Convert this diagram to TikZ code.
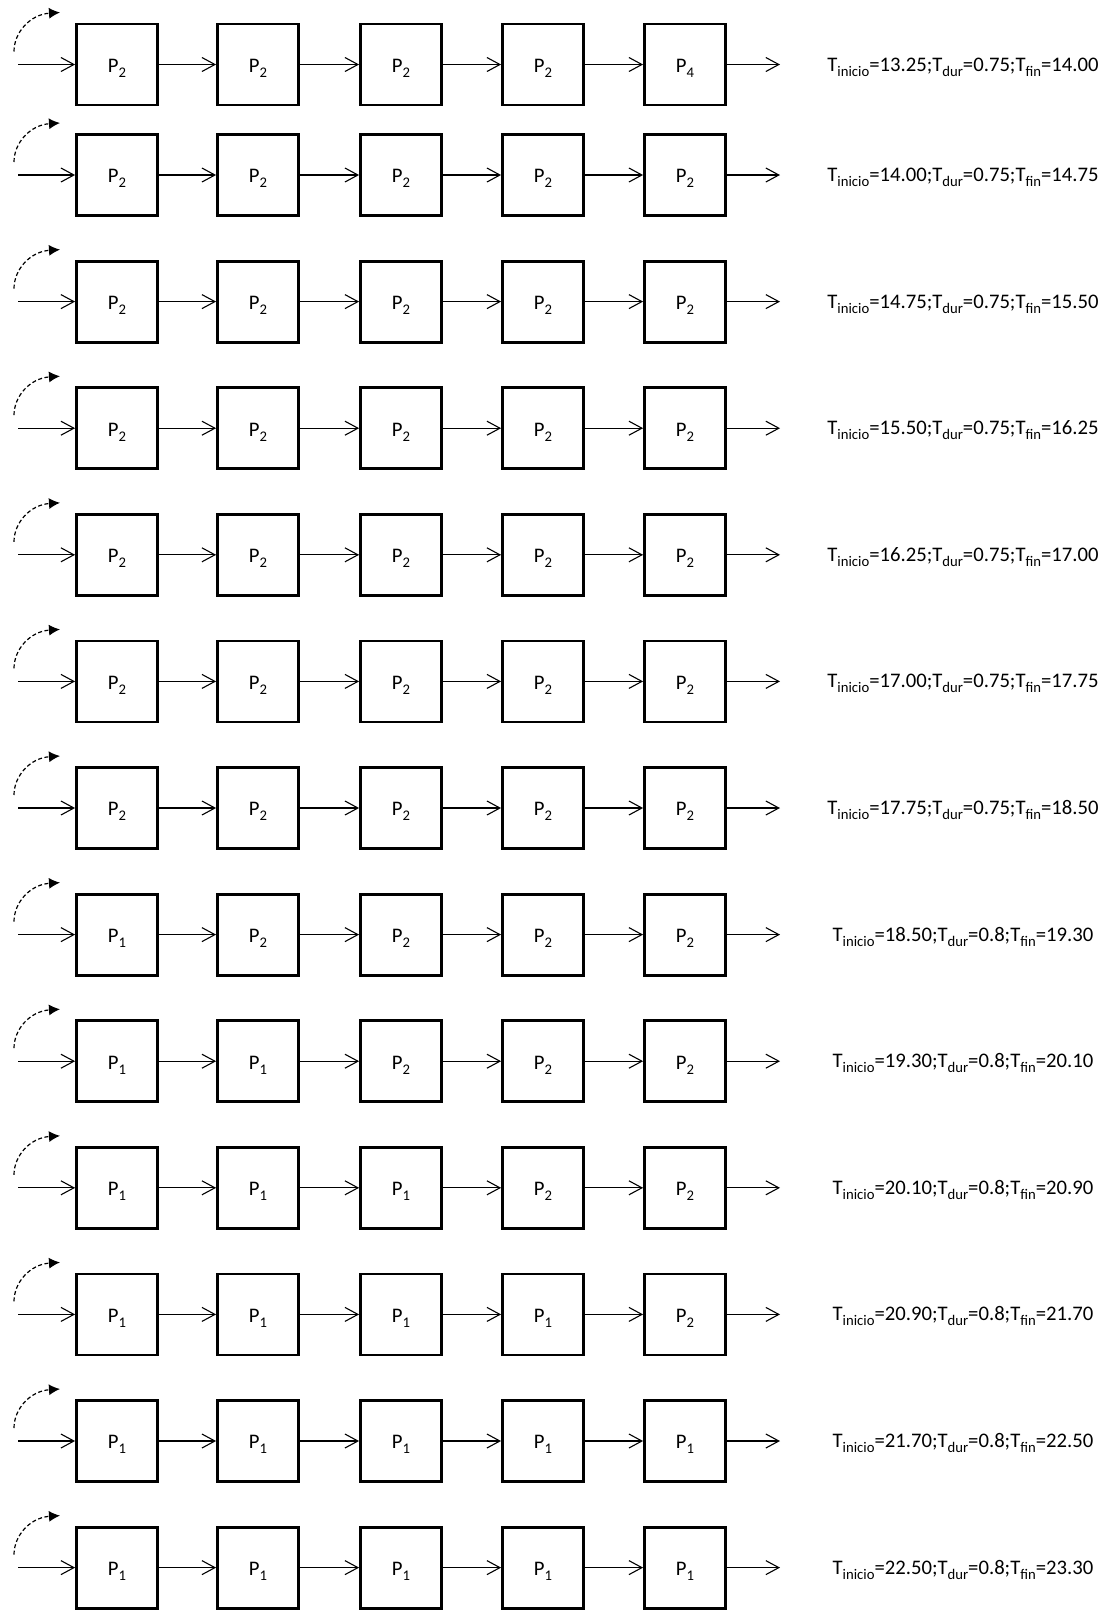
\documentclass[tikz,border=0pt]{standalone}
\usepackage{fontspec}
\setmainfont{Carlito}
\usetikzlibrary{arrows.meta}
\newcommand\sbs[1]{\raisebox{-5pt}{\fontsize{14.7}{15}\selectfont #1}}
\begin{document}
\begin{tikzpicture}[x=1pt,y=-1pt,
  pbox/.style={draw,line width=2.8pt,minimum size=81pt,inner sep=0pt,
    font=\fontsize{20.7}{24}\selectfont,text height=15.6pt,text depth=0pt},
  conn/.style={line width=1.1pt,-{Straight Barb[length=13pt,width=14pt]}},
  loopback/.style={line width=1.2pt,dash pattern=on 4pt off 2.5pt,
    -{Latex[length=11pt,width=11pt]}},
  tlabel/.style={inner sep=0pt,font=\fontsize{20.7}{24}\selectfont,
    text height=13pt,text depth=0pt}]
\useasboundingbox (0,0) rectangle (1107,1610);
\foreach \r/\y/\a/\b/\c/\d/\e/\ti/\td/\tf in {
  1/64.5/2/2/2/2/4/13.25/0.75/14.00,
  2/175/2/2/2/2/2/14.00/0.75/14.75,
  3/301.6/2/2/2/2/2/14.75/0.75/15.50,
  4/428.2/2/2/2/2/2/15.50/0.75/16.25,
  5/554.8/2/2/2/2/2/16.25/0.75/17.00,
  6/681.4/2/2/2/2/2/17.00/0.75/17.75,
  7/808/2/2/2/2/2/17.75/0.75/18.50,
  8/934.6/1/2/2/2/2/18.50/0.8/19.30,
  9/1061.2/1/1/2/2/2/19.30/0.8/20.10,
  10/1187.8/1/1/1/2/2/20.10/0.8/20.90,
  11/1314.4/1/1/1/1/2/20.90/0.8/21.70,
  12/1441/1/1/1/1/1/21.70/0.8/22.50,
  13/1567.6/1/1/1/1/1/22.50/0.8/23.30}{
  \node[pbox] (b\r-1) at (117,\y) {P\sbs{\a}};
  \node[pbox] (b\r-2) at (258,\y) {P\sbs{\b}};
  \node[pbox] (b\r-3) at (401,\y) {P\sbs{\c}};
  \node[pbox] (b\r-4) at (543,\y) {P\sbs{\d}};
  \node[pbox] (b\r-5) at (685,\y) {P\sbs{\e}};
  \coordinate (in\r) at (18,\y);
  \coordinate (out\r) at (780,\y);
  \coordinate (as\r) at (14,\y-13);
  \coordinate (ae\r) at (60,\y-52);
  \draw[conn] (in\r) -- (b\r-1);
  \draw[conn] (b\r-1) -- (b\r-2);
  \draw[conn] (b\r-2) -- (b\r-3);
  \draw[conn] (b\r-3) -- (b\r-4);
  \draw[conn] (b\r-4) -- (b\r-5);
  \draw[conn] (b\r-5) -- (out\r);
  \draw[loopback] (as\r) .. controls (14,\y-32) and (30,\y-50) .. (ae\r);
  \node[tlabel] (t\r) at (963,\y)
    {T\sbs{inicio}=\ti;T\sbs{dur}=\td;T\sbs{fin}=\tf};
}
\end{tikzpicture}
\end{document}
